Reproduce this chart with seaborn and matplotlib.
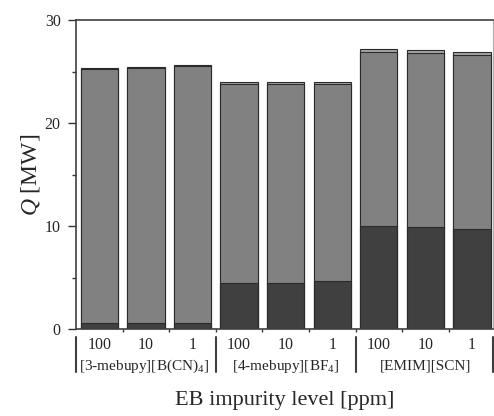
import numpy as np
import pandas as pd
import matplotlib
matplotlib.use("Agg")
import matplotlib.pyplot as plt
import seaborn as sns

# ---- data ----
bar_ids = ["A100", "A10", "A1", "B100", "B10", "B1", "C100", "C10", "C1"]
ppm_labels = ["100", "10", "1", "100", "10", "1", "100", "10", "1"]
group_labels = ["[3-mebupy][B(CN)$_4$]", "[4-mebupy][BF$_4$]", "[EMIM][SCN]"]
q_dark = [0.6, 0.6, 0.6, 4.5, 4.5, 4.65, 10.0, 9.9, 9.75]
q_mid = [24.6, 24.7, 24.9, 19.3, 19.3, 19.15, 16.9, 16.85, 16.85]
q_top = [0.1, 0.1, 0.1, 0.2, 0.2, 0.2, 0.3, 0.3, 0.25]
y_ticks = [0, 10, 20, 30]

sns.set_style("ticks")
plt.rcParams["font.family"] = ["Liberation Serif", "DejaVu Serif"]
plt.rcParams["mathtext.fontset"] = "custom"
plt.rcParams["mathtext.rm"] = "Liberation Serif"
plt.rcParams["mathtext.it"] = "Liberation Serif:italic"

cum_mid = np.array(q_dark) + np.array(q_mid)
cum_top = cum_mid + np.array(q_top)
df = pd.DataFrame({"bar": bar_ids, "dark": q_dark, "mid": cum_mid, "top": cum_top})

fig = plt.figure(figsize=(4.94, 4.16), dpi=100)
ax = fig.add_axes([76 / 494, 87 / 416, 417 / 494, 309 / 416])

edge = "#2a2a2a"
for col, colr in [("top", "#a6a6a6"), ("mid", "#818181"), ("dark", "#404040")]:
    sns.barplot(data=df, x="bar", y=col, order=bar_ids, color=colr, saturation=1,
                edgecolor=edge, linewidth=0.8, width=0.8, ax=ax)

ax.set_xlim(-0.5, 8.45)
ax.set_ylim(0, 30)
ax.set_yticks(y_ticks)
ax.set_yticks([5, 15, 25], minor=True)
ax.set_xticks(np.arange(0.5, 8, 1.0))
ax.set_xticklabels([])
ax.set_xlabel("")
ax.set_ylabel("")
ax.tick_params(axis="y", which="major", direction="out", length=6, width=1,
               color="#333333", labelsize=11.5, pad=5)
ax.tick_params(axis="y", which="minor", direction="out", length=3, width=1,
               color="#333333")
ax.tick_params(axis="x", which="major", direction="out", length=2.5, width=1,
               color="#333333")

for side in ["left", "top", "bottom"]:
    ax.spines[side].set_visible(True)
    ax.spines[side].set_color("#404040")
    ax.spines[side].set_linewidth(1.2)
ax.spines["right"].set_visible(True)
ax.spines["right"].set_color("#b0b0b0")
ax.spines["right"].set_linewidth(0.8)

trans = ax.get_xaxis_transform()
for i, lab in enumerate(ppm_labels):
    ax.text(i, -0.052, lab, transform=trans, ha="center", va="center", fontsize=11.5)
for x, lab in zip([0.97, 4.0, 7.0], group_labels):
    ax.text(x, -0.12, lab, transform=trans, ha="center", va="center", fontsize=11)
for x in [-0.5, 2.5, 5.5, 8.45]:
    ax.plot([x, x], [-0.026, -0.139], transform=trans, color="#404040",
            lw=1.5, clip_on=False)

ax.text(0.501, -0.23, "EB impurity level [ppm]", transform=ax.transAxes,
        ha="center", va="center", fontsize=16)
ax.text(-0.11, 0.5, "$Q$ [MW]", transform=ax.transAxes, rotation=90,
        ha="center", va="center", fontsize=17)

fig.savefig("out.png", dpi=100)
